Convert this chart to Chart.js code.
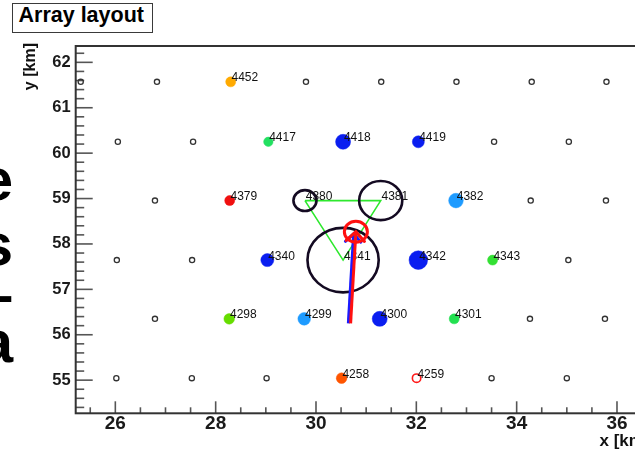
<!DOCTYPE html>
<html>
<head>
<meta charset="utf-8">
<script src="https://cdn.jsdelivr.net/npm/chart.js@4.4.1/dist/chart.umd.min.js"></script>
<style>
  html, body { margin: 0; padding: 0; background: #fff; overflow: hidden; width: 635px; height: 452px; }
  #wrap { position: relative; width: 635px; height: 452px; overflow: hidden; }
  #c { position: absolute; left: 0; top: 0; }
  .slide { position: absolute; right: 622px; font: bold 60px "Liberation Sans", Arial, sans-serif; line-height: 60px; color: #000; white-space: nowrap; }
  #title { position: absolute; left: 12px; top: 3px; width: 141px; height: 30px; box-sizing: border-box; border: 1.6px solid #3a3a3a; background: #fff; }
  #title span { position: absolute; left: 5.5px; top: 1.4px; font: bold 21.5px "Liberation Sans", Arial, sans-serif; line-height: 21.5px; color: #000; white-space: nowrap; }
</style>
</head>
<body>
<div id="wrap">
  <canvas id="c" width="680" height="452"></canvas>
  <div class="slide" style="top:150px">e</div>
  <div class="slide" style="top:215px">s</div>
  <div class="slide" style="top:265px">–</div>
  <div class="slide" style="top:312px">a</div>
  <div id="title"><span>Array layout</span></div>
</div>
<script>
// Detector stations without signal (km)
const idleX = [25.31, 26.83, 29.80, 31.30, 32.80, 34.30, 35.79,
               26.05, 27.55, 33.55, 35.04,
               26.79, 34.28, 35.78,
               26.03, 27.53, 35.03,
               26.79, 34.265, 35.76,
               26.02, 27.525, 29.015, 33.50, 35.00];
const idleY = [61.57, 61.57, 61.57, 61.57, 61.57, 61.57, 61.57,
               60.25, 60.25, 60.25, 60.25,
               58.955, 58.955, 58.955,
               57.644, 57.644, 57.644,
               56.35, 56.35, 56.35,
               55.044, 55.044, 55.044, 55.044, 55.044];

// Stations with a signal
const hitIds = ['4452', '4417', '4418', '4419', '4379', '4382', '4340', '4342', '4343',
                '4298', '4299', '4300', '4301', '4258', '4259'];
const hitX = [28.30, 29.05, 30.54, 32.04, 28.28, 32.79, 29.03, 32.04, 33.52,
              28.27, 29.765, 31.27, 32.755, 30.51, 32.005];
const hitY = [61.57, 60.25, 60.25, 60.25, 58.955, 58.955, 57.644, 57.644, 57.644,
              56.35, 56.35, 56.35, 56.35, 55.044, 55.044];
// marker styling per station
const hitRadius = [5, 4.7, 7.5, 6, 5, 7.3, 6.5, 9.3, 5, 5.3, 6.3, 7.5, 5, 5.3, 4.2];
const hitColor = ['#ffaa00', '#22e060', '#0a1ef0', '#0a1ef0', '#f01010', '#1e9bff', '#0a1ef0', '#0a1ef0', '#33e033',
                  '#66dd00', '#1e9bff', '#0a1ef0', '#22e050', '#ff5500', '#ff1a1a'];
const hitFilled = [true, true, true, true, true, true, true, true, true,
                   true, true, true, true, true, false];

// Triggering stations, drawn as circles scaled with their signal (radius in km)
const ringIds = ['4380', '4381', '4341'];
const ringX = [29.78, 31.29, 30.54];
const ringY = [58.955, 58.955, 57.644];
const ringRadius = [0.23, 0.43, 0.71];

// Shower core and axis projections
const coreX = 30.795, coreY = 58.27, coreRadius = 0.23;
const axisBlueX = [30.645, 30.75], axisBlueY = [56.25, 58.22];
const axisRedX = [30.69, 30.795], axisRedY = [56.25, 58.27];

// Axis tick labels
const xTickValues = [26, 28, 30, 32, 34, 36];
const yTickValues = [55, 56, 57, 58, 59, 60, 61, 62];

const FONT = '"Liberation Sans", Arial, sans-serif';
Chart.defaults.font.family = FONT;

const pts = (xs, ys) => xs.map((x, i) => ({ x, y: ys[i] }));

function geom(chart) {
  const xs = chart.scales.x, ys = chart.scales.y;
  return {
    px: v => xs.getPixelForValue(v),
    py: v => ys.getPixelForValue(v),
    kx: Math.abs(xs.getPixelForValue(1) - xs.getPixelForValue(0)),
    ky: Math.abs(ys.getPixelForValue(1) - ys.getPixelForValue(0))
  };
}

function drawArrowHead(ctx, g, xs, ys, color, len) {
  const x0 = g.px(xs[0]), y0 = g.py(ys[0]);
  const x1 = g.px(xs[1]), y1 = g.py(ys[1]);
  const ang = Math.atan2(y1 - y0, x1 - x0);
  const spread = 0.78;
  ctx.save();
  ctx.strokeStyle = color;
  ctx.lineWidth = 3;
  ctx.lineCap = 'round';
  ctx.beginPath();
  ctx.moveTo(x1 - len * Math.cos(ang - spread), y1 - len * Math.sin(ang - spread));
  ctx.lineTo(x1, y1);
  ctx.lineTo(x1 - len * Math.cos(ang + spread), y1 - len * Math.sin(ang + spread));
  ctx.stroke();
  ctx.restore();
}

const layoutPlugin = {
  id: 'arrayLayout',
  beforeDatasetsDraw(chart) {
    const { ctx, chartArea: a } = chart;
    const g = geom(chart);
    ctx.save();
    // tick marks pointing into the frame
    ctx.strokeStyle = '#555';
    ctx.lineWidth = 1.6;
    const xs = chart.scales.x;
    for (let k = Math.ceil(xs.min * 2); k <= Math.floor(xs.max * 2); k++) {
      const v = k / 2;
      const len = (k % 4 === 0) ? 12 : 6;
      const p = g.px(v);
      ctx.beginPath(); ctx.moveTo(p, a.bottom); ctx.lineTo(p, a.bottom - len); ctx.stroke();
    }
    const ys = chart.scales.y;
    for (let k = Math.ceil(ys.min * 5); k <= Math.floor(ys.max * 5); k++) {
      const v = k / 5;
      const len = (k % 5 === 0) ? 17 : 8.5;
      const p = g.py(v);
      ctx.beginPath(); ctx.moveTo(a.left, p); ctx.lineTo(a.left + len, p); ctx.stroke();
    }
    // frame
    ctx.strokeStyle = '#333';
    ctx.lineWidth = 2;
    ctx.strokeRect(a.left, a.top, a.right - a.left, a.bottom - a.top);
    ctx.restore();
  },
  afterDatasetDraw(chart, args) {
    const { ctx } = chart;
    const g = geom(chart);
    const name = chart.data.datasets[args.index].label;
    if (name === 'hit') {
      // signal circles of the triggering stations
      ctx.save();
      ctx.strokeStyle = '#140a22';
      ctx.lineWidth = 2.6;
      ringX.forEach((x, i) => {
        ctx.beginPath();
        ctx.ellipse(g.px(x), g.py(ringY[i]), ringRadius[i] * g.kx, ringRadius[i] * g.ky, 0, 0, Math.PI * 2);
        ctx.stroke();
      });
      ctx.restore();
      // station numbers
      ctx.save();
      ctx.font = '12px ' + FONT;
      ctx.fillStyle = '#111';
      ctx.textAlign = 'left';
      ctx.textBaseline = 'alphabetic';
      hitIds.forEach((id, i) => ctx.fillText(id, g.px(hitX[i]) + 0.8, g.py(hitY[i]) - 0.5));
      ringIds.forEach((id, i) => ctx.fillText(id, g.px(ringX[i]) + 0.8, g.py(ringY[i]) - 0.5));
      ctx.restore();
    }
    if (name === 'axisBlue') {
      drawArrowHead(ctx, g, axisBlueX, axisBlueY, '#1a1aff', 11);
      ctx.save();
      ctx.strokeStyle = '#ff1010';
      ctx.lineWidth = 3;
      ctx.beginPath();
      ctx.ellipse(g.px(coreX), g.py(coreY), coreRadius * g.kx, coreRadius * g.ky, 0, 0, Math.PI * 2);
      ctx.stroke();
      ctx.restore();
    }
    if (name === 'axisRed') {
      drawArrowHead(ctx, g, axisRedX, axisRedY, '#ff1010', 13);
    }
  },
  afterDraw(chart) {
    const { ctx, chartArea: a } = chart;
    ctx.save();
    ctx.fillStyle = '#111';
    ctx.font = 'bold 17px ' + FONT;
    ctx.textAlign = 'right';
    ctx.textBaseline = 'alphabetic';
    ctx.fillText('x [km]', a.right, 446);
    ctx.translate(35, 43);
    ctx.rotate(-Math.PI / 2);
    ctx.font = 'bold 16px ' + FONT;
    ctx.fillText('y [km]', 0, 0);
    ctx.restore();
  }
};

new Chart(document.getElementById('c'), {
  type: 'scatter',
  data: {
    datasets: [
      {
        label: 'idle',
        data: pts(idleX, idleY),
        pointRadius: 2.6,
        pointBorderWidth: 1.3,
        pointBorderColor: '#333',
        pointBackgroundColor: 'rgba(0,0,0,0)',
        order: 6
      },
      {
        label: 'triangle',
        data: pts([...ringX, ringX[0]], [...ringY, ringY[0]]),
        showLine: true,
        borderColor: '#2ee82e',
        borderWidth: 1.6,
        pointRadius: 0,
        order: 5
      },
      {
        label: 'hit',
        data: pts(hitX, hitY),
        pointRadius: hitRadius,
        pointBorderWidth: hitFilled.map(f => f ? 0.5 : 1.6),
        pointBorderColor: hitColor,
        pointBackgroundColor: hitColor.map((c, i) => hitFilled[i] ? c : 'rgba(0,0,0,0)'),
        order: 4
      },
      {
        label: 'axisBlue',
        data: pts(axisBlueX, axisBlueY),
        showLine: true,
        borderColor: '#1a1aff',
        borderWidth: 3,
        pointRadius: 0,
        order: 2
      },
      {
        label: 'axisRed',
        data: pts(axisRedX, axisRedY),
        showLine: true,
        borderColor: '#ff1010',
        borderWidth: 3,
        pointRadius: 0,
        order: 1
      }
    ]
  },
  options: {
    responsive: false,
    animation: false,
    devicePixelRatio: 1,
    layout: { padding: { left: 0, top: 46, right: 30.4, bottom: 0 } },
    plugins: { legend: { display: false }, tooltip: { enabled: false } },
    events: [],
    scales: {
      x: {
        type: 'linear',
        min: 25.21,
        max: 36.65,
        grid: { display: false, drawTicks: false },
        border: { display: false },
        afterBuildTicks: s => { s.ticks = xTickValues.map(v => ({ value: v })); },
        afterFit: s => { s.height = 38.7; },
        ticks: { font: { size: 19, weight: 'bold' }, color: '#1a1a1a', padding: -1, maxRotation: 0 }
      },
      y: {
        type: 'linear',
        min: 54.27,
        max: 62.36,
        grid: { display: false, drawTicks: false },
        border: { display: false },
        afterBuildTicks: s => { s.ticks = yTickValues.map(v => ({ value: v })); },
        afterFit: s => { s.width = 75.7; },
        ticks: { font: { size: 16.5, weight: 'bold' }, color: '#1a1a1a', padding: 5 }
      }
    }
  },
  plugins: [layoutPlugin]
});
</script>
</body>
</html>
